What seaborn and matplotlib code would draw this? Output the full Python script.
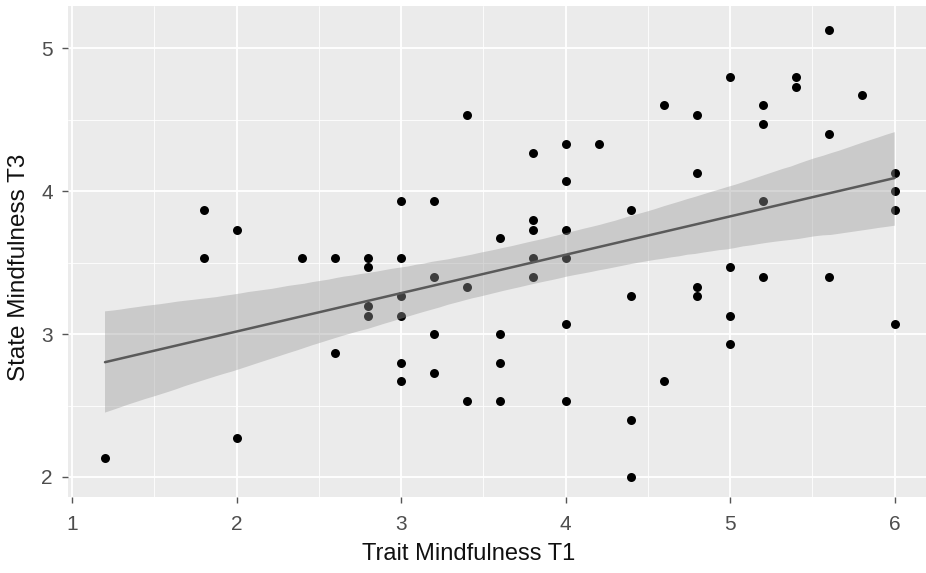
import numpy as np
import pandas as pd
import seaborn as sns
import matplotlib
matplotlib.use("Agg")
import matplotlib.pyplot as plt
from matplotlib.ticker import MultipleLocator

# data
trait_t1 = [1.2, 1.8, 1.8, 2.0, 2.0, 2.4, 2.6, 2.6,
            2.8, 2.8, 2.8, 2.8,
            3.0, 3.0, 3.0, 3.0, 3.0, 3.0,
            3.2, 3.2, 3.2, 3.2,
            3.4, 3.4, 3.4,
            3.6, 3.6, 3.6, 3.6,
            3.8, 3.8, 3.8, 3.8, 3.8,
            4.0, 4.0, 4.0, 4.0, 4.0, 4.0,
            4.2,
            4.4, 4.4, 4.4, 4.4,
            4.6, 4.6,
            4.8, 4.8, 4.8, 4.8,
            5.0, 5.0, 5.0, 5.0,
            5.2, 5.2, 5.2, 5.2,
            5.4, 5.4,
            5.6, 5.6, 5.6,
            5.8,
            6.0, 6.0, 6.0, 6.0]
state_t3 = [2.13, 3.87, 3.53, 3.73, 2.27, 3.53, 3.53, 2.87,
            3.53, 3.47, 3.20, 3.13,
            3.93, 3.53, 3.27, 3.13, 2.80, 2.67,
            3.93, 3.40, 3.00, 2.73,
            4.53, 3.33, 2.53,
            3.67, 3.00, 2.80, 2.53,
            4.27, 3.80, 3.73, 3.53, 3.40,
            4.33, 4.07, 3.73, 3.53, 3.07, 2.53,
            4.33,
            3.87, 3.27, 2.40, 2.00,
            4.60, 2.67,
            4.53, 4.13, 3.33, 3.27,
            4.80, 3.47, 3.13, 2.93,
            4.60, 4.47, 3.93, 3.40,
            4.80, 4.73,
            5.13, 4.40, 3.40,
            4.67,
            4.13, 4.00, 3.87, 3.07]
x_ticks = [1, 2, 3, 4, 5, 6]
y_ticks = [2, 3, 4, 5]

df = pd.DataFrame({"trait": trait_t1, "state": state_t3})

sns.set_theme(style="darkgrid", rc={"axes.facecolor": "#EBEBEB",
                                    "grid.color": "white",
                                    "figure.facecolor": "white"})
plt.rcParams['font.family'] = ['Liberation Sans', 'DejaVu Sans']

fig = plt.figure(figsize=(9.26, 5.73), dpi=100)
ax = fig.add_axes([68 / 926, 76 / 573, 1 - 68 / 926, 491 / 573])

sns.regplot(data=df, x="trait", y="state", ax=ax, ci=95, n_boot=2000, seed=3,
            color="black",
            scatter_kws=dict(s=42, linewidths=0, alpha=1, zorder=2),
            line_kws=dict(color="#5a5a5a", lw=1.8, zorder=4))

# grey confidence band like ggplot
band = [c for c in ax.collections if type(c).__name__ in ("PolyCollection", "FillBetweenPolyCollection")]
for b in band:
    b.set_facecolor("#999999")
    b.set_alpha(0.4)
    b.set_zorder(3)
    b.set_edgecolor("none")

ax.set_xlim(0.975, 6.19)
ax.set_ylim(1.86, 5.296)
ax.set_xticks(x_ticks)
ax.set_yticks(y_ticks)
ax.xaxis.set_minor_locator(MultipleLocator(0.5))
ax.yaxis.set_minor_locator(MultipleLocator(0.5))
ax.grid(which="major", color="white", lw=1.3)
ax.grid(which="minor", color="white", lw=0.6)
ax.tick_params(which="major", bottom=True, left=True, length=4, width=1,
               color="#555555", labelcolor="#4D4D4D", labelsize=15)
ax.tick_params(axis="x", pad=9)
ax.tick_params(axis="y", pad=7)
ax.tick_params(which="minor", length=0)
for s in ax.spines.values():
    s.set_visible(False)

ax.set_xlabel("Trait Mindfulness T1", fontsize=17, color="#111111")
ax.set_ylabel("State Mindfulness T3", fontsize=17.5, color="#111111")
ax.xaxis.set_label_coords(0.467, -0.094)
ax.yaxis.set_label_coords(-0.044, 0.468)

fig.savefig("out.png", dpi=100)
